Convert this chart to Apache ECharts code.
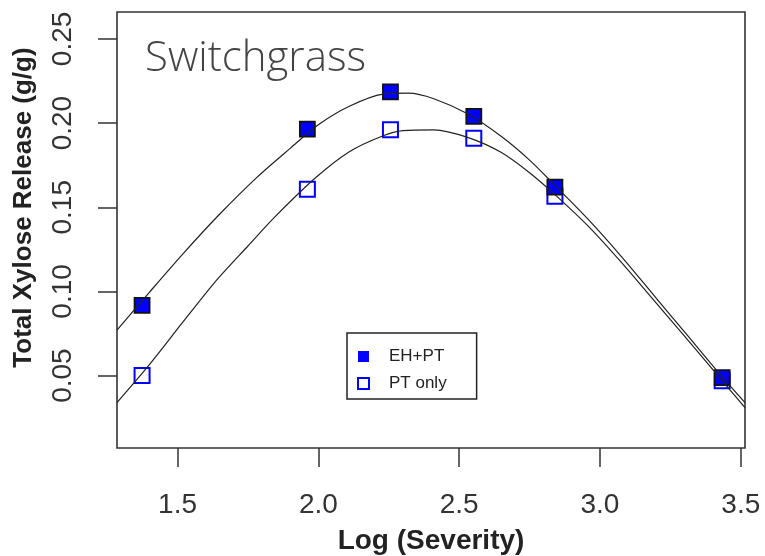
<!DOCTYPE html>
<html>
<head>
    <meta charset="UTF-8">
    <title>Switchgrass xylose release</title>
    <script src="https://cdn.jsdelivr.net/npm/echarts@6/dist/echarts.min.js"></script>
    <style>
        html, body { margin: 0; padding: 0; background: #fff; }
        #chart { width: 765px; height: 556px; }
    </style>
</head>
<body>
<div id="chart"></div>
<script type="text/javascript">
    // measured points
    const severity = [1.374, 1.961, 2.256, 2.552, 2.840, 3.434];
    const ehPt = [0.0917, 0.1964, 0.2185, 0.2040, 0.1620, 0.0488];
    const ptOnly = [0.0500, 0.1607, 0.1960, 0.1910, 0.1565, 0.0470];

    // fitted curves
    const fitUpX = [1.285, 1.40, 1.52, 1.65, 1.78, 1.90, 2.00, 2.11, 2.23, 2.32, 2.41, 2.53, 2.65, 2.75, 2.84, 2.96, 3.08, 3.19, 3.31, 3.43, 3.515];
    const fitUpY = [0.0770, 0.0995, 0.1225, 0.1460, 0.1675, 0.1850, 0.1990, 0.2100, 0.2172, 0.2178, 0.2145, 0.2055, 0.1920, 0.1780, 0.1630, 0.1425, 0.1200, 0.0980, 0.0740, 0.0500, 0.0340];
    const fitLoX = [1.285, 1.40, 1.52, 1.63, 1.75, 1.85, 1.99, 2.11, 2.23, 2.30, 2.41, 2.53, 2.65, 2.75, 2.84, 2.96, 3.08, 3.19, 3.31, 3.43, 3.515];
    const fitLoY = [0.0340, 0.0565, 0.0820, 0.1050, 0.1270, 0.1450, 0.1675, 0.1830, 0.1925, 0.1955, 0.1960, 0.1915, 0.1825, 0.1705, 0.1575, 0.1385, 0.1165, 0.0950, 0.0715, 0.0478, 0.0310];

    const xTicks = [1.5, 2.0, 2.5, 3.0, 3.5];
    const yTicks = [0.05, 0.10, 0.15, 0.20, 0.25];

    function zip(xs, ys) {
        return xs.map(function (x, i) { return [x, ys[i]]; });
    }

    let chart = echarts.init(document.getElementById('chart'));

    let option = {
        animation: false,
        grid: {
            left: 117, top: 12, width: 628, height: 436,
            outerBoundsMode: 'none',
            show: true, borderColor: '#333', borderWidth: 1.6, backgroundColor: '#fff'
        },
        graphic: [{
            type: 'text', left: 145, top: 38,
            style: {
                text: 'Switchgrass', fill: '#444',
                font: '300 42px "Open Sans", "Noto Sans", sans-serif'
            }
        }],
        legend: {
            left: 347, top: 333, orient: 'vertical',
            itemWidth: 11, itemHeight: 11, itemGap: 10,
            padding: [15, 30, 7, 10],
            borderColor: '#222', borderWidth: 1.5,
            textStyle: {
                fontFamily: 'Liberation Sans, Arial', fontSize: 17, color: '#222',
                padding: [0, 0, 0, 15], lineHeight: 16
            },
            data: [
                { name: 'EH+PT', icon: 'rect', itemStyle: { color: '#0000ff', borderWidth: 0, opacity: 1 } },
                { name: 'PT only', icon: 'rect', itemStyle: { color: '#fff', borderColor: '#0000ff', borderWidth: 2, opacity: 1 } }
            ]
        },
        xAxis: {
            type: 'value', min: 1.285, max: 3.515,
            name: 'Log (Severity)', nameLocation: 'middle', nameGap: 79,
            nameTextStyle: { fontFamily: 'Liberation Sans, Arial', fontWeight: 'bold', fontSize: 28, color: '#222' },
            axisLine: { show: false },
            axisTick: { show: true, inside: false, length: 19, customValues: xTicks, lineStyle: { color: '#333', width: 1.5 } },
            axisLabel: {
                customValues: xTicks, margin: 43,
                fontFamily: 'Liberation Sans, Arial', fontSize: 28, color: '#333',
                formatter: function (v) { return v.toFixed(1); }
            },
            splitLine: { show: false }
        },
        yAxis: {
            type: 'value', min: 0.007, max: 0.266,
            name: 'Total Xylose Release (g/g)', nameLocation: 'middle', nameGap: 80,
            nameTextStyle: {
                fontFamily: 'Liberation Sans, Arial', fontWeight: 'bold', fontSize: 26, color: '#222',
                padding: [0, 0, 0, 45]
            },
            axisLine: { show: false },
            axisTick: { show: true, inside: false, length: 19, customValues: yTicks, lineStyle: { color: '#333', width: 1.5 } },
            axisLabel: {
                customValues: yTicks, margin: 40, rotate: 90,
                fontFamily: 'Liberation Sans, Arial', fontSize: 28, color: '#333',
                formatter: function (v) { return v.toFixed(2); }
            },
            splitLine: { show: false }
        },
        series: [
            {
                name: 'PT only', type: 'scatter', z: 2,
                symbol: 'rect', symbolSize: 15,
                itemStyle: { color: '#fff', borderColor: '#0000ff', borderWidth: 2, opacity: 1 },
                data: zip(severity, ptOnly)
            },
            {
                name: 'EH+PT', type: 'scatter', z: 3,
                symbol: 'rect', symbolSize: 15,
                itemStyle: { color: '#0000ff', borderColor: '#111', borderWidth: 1.8, opacity: 1 },
                data: zip(severity, ehPt)
            },
            {
                name: 'fit EH+PT', type: 'line', z: 4, smooth: 0.3,
                showSymbol: false, silent: true,
                lineStyle: { color: '#222', width: 1.2 },
                data: zip(fitUpX, fitUpY)
            },
            {
                name: 'fit PT only', type: 'line', z: 4, smooth: 0.3,
                showSymbol: false, silent: true,
                lineStyle: { color: '#222', width: 1.2 },
                data: zip(fitLoX, fitLoY)
            }
        ]
    };

    chart.setOption(option);
</script>
</body>
</html>
